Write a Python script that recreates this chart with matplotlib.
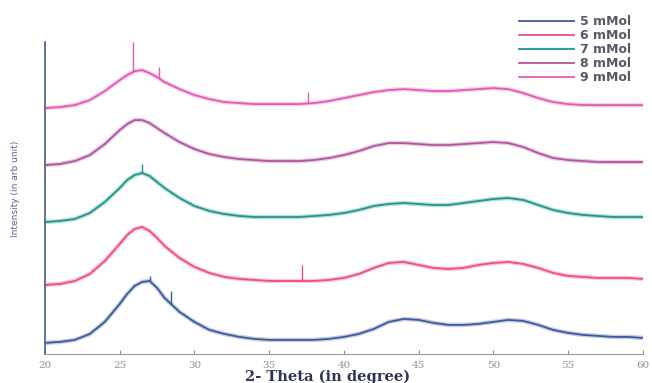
"""
XRD patterns, stacked, 5 - 9 mMol
"""

import numpy as np
import matplotlib.pyplot as plt

plt.close("all")

"""
Data read off the picture (intensity in arb. unit, stacked as plotted)
"""
two_theta = [20, 21, 22, 23, 24, 25, 25.5, 26, 26.5, 27, 27.5, 28,
             29, 30, 31, 32, 33, 34, 35, 36, 37, 38, 39, 40, 41, 42, 43, 44,
             45, 46, 47, 48, 49, 50, 51, 52, 53, 54, 55, 56, 57, 58, 59, 60]

i_5 = [11, 12, 14, 20, 32, 50, 60, 68, 72, 73, 66, 56,
       42, 32, 24, 20, 17, 15, 14, 14, 14, 14, 15, 17, 20, 25, 32, 35,
       34, 31, 29, 29, 30, 32, 34, 33, 29, 24, 21, 19, 18, 17, 17, 16]
i_6 = [69, 70, 73, 80, 93, 110, 119, 125, 127, 123, 116, 108,
       96, 87, 81, 77, 75, 74, 73, 73, 73, 73, 74, 76, 80, 86, 91, 92,
       89, 86, 85, 86, 89, 91, 92, 90, 86, 81, 78, 77, 76, 76, 76, 75]
i_7 = [132, 133, 135, 141, 152, 166, 174, 179, 181, 178, 172, 166,
       156, 148, 143, 140, 138, 137, 137, 137, 137, 138, 139, 141, 144, 148, 150, 151,
       150, 149, 149, 151, 153, 155, 156, 154, 149, 144, 141, 139, 138, 137, 137, 137]
i_8 = [189, 190, 193, 199, 210, 224, 230, 234, 234, 231, 226, 221,
       212, 205, 200, 197, 195, 194, 193, 193, 193, 194, 196, 199, 203, 208, 211, 211,
       210, 209, 209, 210, 211, 212, 211, 207, 201, 196, 194, 193, 192, 192, 192, 192]
i_9 = [246, 247, 249, 254, 263, 274, 279, 283, 284, 281, 277, 272,
       265, 259, 255, 252, 251, 250, 250, 250, 250, 251, 253, 256, 259, 262, 264, 265,
       264, 263, 263, 264, 265, 266, 265, 261, 256, 252, 250, 249, 249, 249, 249, 249]

labels = ["5 mMol", "6 mMol", "7 mMol", "8 mMol", "9 mMol"]
colors = ["#3c5b9c", "#ee4f7c", "#21958a", "#b0559f", "#e45ab5"]

# sharp spikes: series index, position, top
spike_series = [4, 4, 4, 2, 1, 0, 0]
spike_pos = [25.9, 27.6, 37.6, 26.5, 37.2, 27.0, 28.4]
spike_top = [312, 287, 262, 190, 89, 78, 63]

"""
Plot
"""
fig = plt.figure(figsize=(6.52, 3.83), dpi=100)
ax = fig.add_axes([0.069, 0.076, 0.917, 0.814])

series = [i_5, i_6, i_7, i_8, i_9]
for s, c, lab in zip(series, colors, labels):
    ax.plot(two_theta, s, color=c, lw=3.2, alpha=0.3, solid_capstyle="butt")
    ax.plot(two_theta, s, color=c, lw=1.3, label=lab)

for k, p, t in zip(spike_series, spike_pos, spike_top):
    base = np.interp(p, two_theta, series[k])
    ax.vlines(p, base, t, color=colors[k], lw=1.0)

ax.set_xlim(20, 60)
ax.set_ylim(0, 312)
ax.set_xticks(np.arange(20, 61, 5))
ax.set_yticks([])
ax.tick_params(axis="x", direction="in", length=3, labelsize=7.5,
               labelcolor="#8a8f9a", color="#8a8f9a", pad=5)
for lab in ax.get_xticklabels():
    lab.set_family("DejaVu Serif")

for side in ["top", "right"]:
    ax.spines[side].set_visible(False)
ax.spines["left"].set_color("#4a5a8a")
ax.spines["left"].set_linewidth(1.2)
ax.spines["bottom"].set_color("#9aa0aa")

ax.set_xlabel("2- Theta (in degree)", fontsize=10.5, fontweight="bold",
              color="#2f3550", family="DejaVu Serif")
ax.xaxis.set_label_coords(0.473, -0.052)
ax.set_ylabel("Intensity (in arb unit)", fontsize=6.5, color="#5a6585",
              family=["Liberation Sans Narrow", "DejaVu Sans"])
ax.yaxis.set_label_coords(-0.042, 0.53)

fig.legend(loc="upper right", bbox_to_anchor=(0.985, 0.99), frameon=False,
           handlelength=4.4, labelspacing=0.08, handletextpad=0.5,
           prop={"size": 9, "weight": "bold"},
           labelcolor="#555a66")

plt.savefig("out.png", dpi=100)
